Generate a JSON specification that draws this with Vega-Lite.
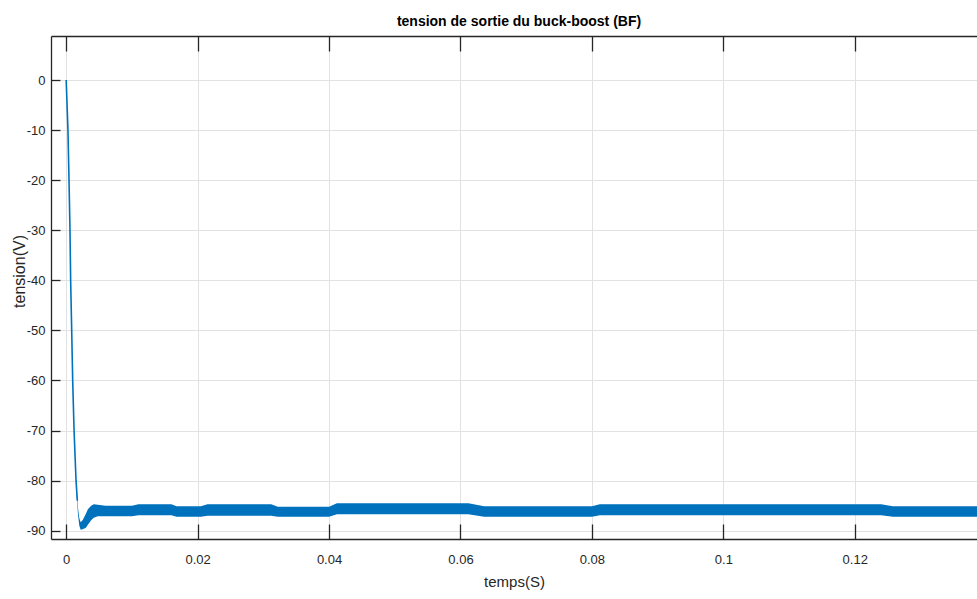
{
  "$schema": "https://vega.github.io/schema/vega-lite/v6.json",
  "width": 926,
  "height": 503,
  "autosize": {"type": "none"},
  "padding": {"left": 51, "top": 36, "right": 0, "bottom": 60},
  "background": "white",
  "title": {"text": "tension de sortie du buck-boost (BF)", "font": "Liberation Sans", "fontSize": 14, "fontWeight": "bold", "color": "#000000", "anchor": "middle", "dx": 5, "offset": 6},
  "config": {
    "view": {"stroke": null},
    "axis": {
      "domainColor": "#262626",
      "domainWidth": 1.3,
      "tickColor": "#262626",
      "tickWidth": 1.3,
      "labelColor": "#262626",
      "labelFont": "Liberation Sans",
      "labelFontSize": 13,
      "titleColor": "#262626",
      "titleFont": "Liberation Sans",
      "titleFontSize": 15,
      "titleFontWeight": "normal",
      "gridColor": "#e2e2e2",
      "gridWidth": 1
    }
  },
  "datasets": {
    "band": [
      {"t": 0.0015, "hi": -80.5, "lo": -81.5},
      {"t": 0.0018, "hi": -85.5, "lo": -86.8},
      {"t": 0.0020, "hi": -87.5, "lo": -89.0},
      {"t": 0.0022, "hi": -88.3, "lo": -89.8},
      {"t": 0.0025, "hi": -87.9, "lo": -89.7},
      {"t": 0.0030, "hi": -86.6, "lo": -89.4},
      {"t": 0.0033, "hi": -85.7, "lo": -88.8},
      {"t": 0.0038, "hi": -85.0, "lo": -87.9},
      {"t": 0.0042, "hi": -84.7, "lo": -87.4},
      {"t": 0.0048, "hi": -84.8, "lo": -87.1},
      {"t": 0.0060, "hi": -85.0, "lo": -87.1},
      {"t": 0.0100, "hi": -85.0, "lo": -87.1},
      {"t": 0.0110, "hi": -84.7, "lo": -86.9},
      {"t": 0.0160, "hi": -84.7, "lo": -86.9},
      {"t": 0.0168, "hi": -85.1, "lo": -87.2},
      {"t": 0.0205, "hi": -85.1, "lo": -87.2},
      {"t": 0.0215, "hi": -84.7, "lo": -87.0},
      {"t": 0.0312, "hi": -84.7, "lo": -87.0},
      {"t": 0.0322, "hi": -85.2, "lo": -87.2},
      {"t": 0.0400, "hi": -85.2, "lo": -87.2},
      {"t": 0.0412, "hi": -84.5, "lo": -86.7},
      {"t": 0.0612, "hi": -84.5, "lo": -86.7},
      {"t": 0.0636, "hi": -85.1, "lo": -87.2},
      {"t": 0.0800, "hi": -85.1, "lo": -87.2},
      {"t": 0.0812, "hi": -84.7, "lo": -86.9},
      {"t": 0.1240, "hi": -84.7, "lo": -86.9},
      {"t": 0.1258, "hi": -85.1, "lo": -87.2},
      {"t": 0.1401, "hi": -85.1, "lo": -87.2}
    ],
    "transient": [
      {"t": 0.0, "v": 0},
      {"t": 0.00027, "v": -10},
      {"t": 0.00043, "v": -20},
      {"t": 0.00058, "v": -30},
      {"t": 0.00068, "v": -40},
      {"t": 0.00084, "v": -50},
      {"t": 0.00099, "v": -60},
      {"t": 0.0012, "v": -70},
      {"t": 0.0015, "v": -80},
      {"t": 0.0017, "v": -84}
    ]
  },
  "resolve": {"axis": {"x": "independent", "y": "independent"}},
  "layer": [
    {
      "data": {"name": "band"},
      "mark": {"type": "area", "color": "#0072BD", "clip": true, "opacity": 1},
      "encoding": {
        "x": {
          "field": "t", "type": "quantitative",
          "scale": {"domain": [-0.00231, 0.1386], "nice": false, "zero": false},
          "axis": {"title": "temps(S)", "values": [0, 0.02, 0.04, 0.06, 0.08, 0.1, 0.12], "labelExpr": "'' + datum.value", "tickSize": -15, "labelPadding": 29, "titlePadding": 8, "grid": true}
        },
        "y": {
          "field": "hi", "type": "quantitative",
          "scale": {"domain": [-91.65, 8.79], "nice": false, "zero": false},
          "axis": {"title": "tension(V)", "values": [-90, -80, -70, -60, -50, -40, -30, -20, -10, 0], "labelExpr": "'' + datum.value", "tickSize": -9, "labelPadding": 15, "grid": true, "titleX": -32, "titleY": 235, "titleBaseline": "middle", "titleFontSize": 16}
        },
        "y2": {"field": "lo"}
      }
    },
    {
      "data": {"name": "transient"},
      "mark": {"type": "line", "color": "#0072BD", "strokeWidth": 1.6, "clip": true},
      "encoding": {
        "x": {
          "field": "t", "type": "quantitative",
          "axis": {"orient": "top", "title": null, "labels": false, "grid": false, "values": [0, 0.02, 0.04, 0.06, 0.08, 0.1, 0.12], "tickSize": -15}
        },
        "y": {"field": "v", "type": "quantitative", "axis": null}
      }
    }
  ]
}
